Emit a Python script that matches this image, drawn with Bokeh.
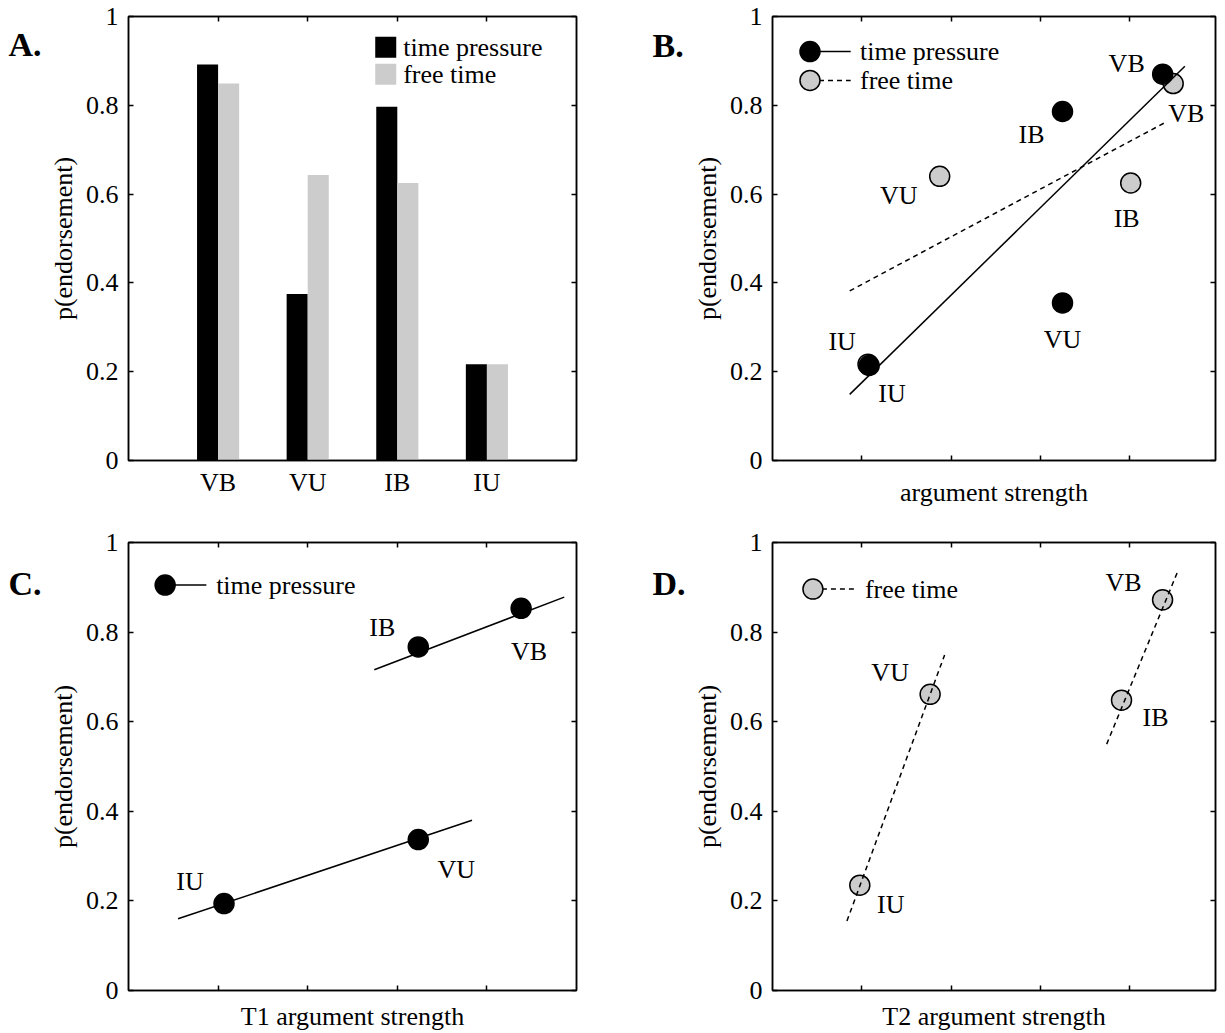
from bokeh.plotting import figure
from bokeh.models import Range1d, FixedTicker, LinearAxis, CustomJSTickFormatter
from bokeh.layouts import column, row
from bokeh.embed import file_html
from bokeh.resources import INLINE
from bokeh.core.properties import value

# ---------------- data ----------------
arguments = ["VB", "VU", "IB", "IU"]
y_ticks = [0, 0.2, 0.4, 0.6, 0.8, 1.0]
x_ticks = [1, 2, 3, 4]

# Panel A: observed endorsement rates
a_time_pressure = [0.892, 0.375, 0.797, 0.217]
a_free_time = [0.849, 0.643, 0.625, 0.217]

# Panel B: argument strength vs endorsement
b_tp_x = [4.371, 3.249, 3.249, 1.083]
b_tp_y = [0.870, 0.355, 0.786, 0.214]
b_ft_x = [4.489, 1.873, 4.013, 1.070]
b_ft_y = [0.849, 0.640, 0.625, 0.217]
b_tp_fit_x = [0.865, 4.620]
b_tp_fit_y = [0.149, 0.888]
b_ft_fit_x = [0.865, 4.406]
b_ft_fit_y = [0.382, 0.762]

# Panel C: T1 argument strength (time pressure)
c_x = [4.382, 3.234, 3.234, 1.066]
c_y = [0.853, 0.337, 0.767, 0.194]
c_fit_xs = [[2.743, 4.863], [0.553, 3.834]]
c_fit_ys = [[0.716, 0.878], [0.160, 0.380]]

# Panel D: T2 argument strength (free time)
d_x = [4.370, 1.766, 3.910, 0.978]
d_y = [0.872, 0.661, 0.648, 0.235]
d_fit_xs = [[3.744, 4.545], [0.834, 1.928]]
d_fit_ys = [[0.550, 0.938], [0.155, 0.749]]

panel_letters = ["A.", "B.", "C.", "D."]

# ---------------- layout / style constants ----------------
FONT = "Liberation Serif"
FS = "26px"
GRAY = "#cccccc"
MS = 20

# label offsets in screen pixels (dx, dy; dy positive = down)
b_tp_off = [(-36, -11), (0, 37), (-31, 23), (-27, -24)]
b_ft_off = [(13, 30), (-41, 19), (-4, 35), (24, 29)]
c_off = [(8, 43), (38, 30), (-36, -19), (-34, -22)]
d_off = [(-39, -17), (-40, -22), (34, 17), (31, 19)]


def make_fig(width, height, xmax, borders):
    l, r, t, b = borders
    p = figure(width=width, height=height, x_range=Range1d(0, xmax), y_range=Range1d(0, 1),
               output_backend="svg", toolbar_location=None, tools="",
               min_border_left=l, min_border_right=r, min_border_top=t, min_border_bottom=b)
    p.grid.visible = False
    p.outline_line_color = "black"
    p.outline_line_width = 1.5
    p.background_fill_color = "white"
    p.border_fill_color = "white"
    return p


def letter_fig(width, height, text, x, baseline_from_top):
    f = figure(width=width, height=height, x_range=Range1d(0, width), y_range=Range1d(0, height),
               output_backend="svg", toolbar_location=None, tools="",
               x_axis_type=None, y_axis_type=None, min_border=0,
               min_border_left=0, min_border_right=0, min_border_top=0, min_border_bottom=0)
    f.grid.visible = False
    f.outline_line_color = None
    f.text(x=[x], y=[height - baseline_from_top], text=[text], text_font=value(FONT),
           text_font_size=value("34px"), text_font_style="bold", text_color="black",
           text_align="left", text_baseline="alphabetic")
    return f


def style_axis(ax, ticks, show_labels=True, tick_in=5):
    ax.ticker = FixedTicker(ticks=ticks)
    ax.major_tick_in = tick_in
    ax.major_tick_out = 0
    ax.minor_tick_line_color = None
    ax.axis_line_color = "black"
    ax.axis_line_width = 1.5
    ax.major_tick_line_width = 1.5
    ax.major_label_text_font = FONT
    ax.major_label_text_color = "black"
    ax.axis_label_text_font = FONT
    ax.axis_label_text_font_size = FS
    ax.axis_label_text_font_style = "normal"
    ax.axis_label_text_color = "black"
    if show_labels:
        ax.major_label_text_font_size = FS
    else:
        ax.major_label_text_font_size = "0px"
        ax.major_label_standoff = 0
        ax.major_label_overrides = {t: "" for t in ticks}


def frame_axes(p, xticks, xlabel, xlabels=None, bottom_tick_in=5, xlabel_standoff=12):
    style_axis(p.yaxis[0], y_ticks)
    p.yaxis[0].formatter = CustomJSTickFormatter(code="return String(tick)")
    p.yaxis[0].axis_label = "p(endorsement)"
    p.yaxis[0].major_label_standoff = 10
    p.yaxis[0].axis_label_standoff = 5
    if xlabels is not None:
        style_axis(p.xaxis[0], xticks, True, tick_in=bottom_tick_in)
        p.xaxis[0].major_label_overrides = {t: s for t, s in zip(xticks, xlabels)}
        p.xaxis[0].major_label_standoff = 7
    else:
        style_axis(p.xaxis[0], xticks, False, tick_in=bottom_tick_in)
    p.xaxis[0].axis_label = xlabel
    p.xaxis[0].axis_label_standoff = xlabel_standoff
    top = LinearAxis()
    style_axis(top, xticks, False)
    p.add_layout(top, "above")
    right = LinearAxis()
    style_axis(right, y_ticks, False)
    p.add_layout(right, "right")


def point_labels(p, xs, ys, offs):
    p.text(x=xs, y=ys, text=arguments,
           x_offset=[o[0] for o in offs], y_offset=[o[1] for o in offs],
           text_font=value(FONT), text_font_size=value(FS), text_color="black",
           text_align="center", text_baseline="middle")


def legend_text(p, x, y, txt):
    p.text(x=[x], y=[y], text=[txt], text_font=value(FONT), text_font_size=value(FS),
           text_color="black", text_align="left", text_baseline="middle")


TOP_H, BOT_H = 515, 518
XMAX_R = 4.963

# ---------------- Panel A ----------------
pA = make_fig(578, TOP_H, 5, (86, 44, 12, 55))
cat_x = [i + 1 for i in range(len(arguments))]
bw = 0.235
pA.vbar(x=[c - bw / 2 for c in cat_x], top=a_time_pressure, width=bw,
        fill_color="black", line_color=None)
pA.vbar(x=[c + bw / 2 for c in cat_x], top=a_free_time, width=bw,
        fill_color=GRAY, line_color=None)
frame_axes(pA, x_ticks, "", xlabels=arguments, bottom_tick_in=0)
pA.rect(x=[2.871, 2.871], y=[0.931, 0.870], width=21, height=21,
        width_units="screen", height_units="screen",
        fill_color=["black", GRAY], line_color=None)
legend_text(pA, 3.066, 0.931, "time pressure")
legend_text(pA, 3.066, 0.870, "free time")
lA = letter_fig(42, TOP_H, panel_letters[0], 8, 33)

# ---------------- Panel B ----------------
pB = make_fig(539, TOP_H, XMAX_R, (86, 10, 16, 51))
frame_axes(pB, x_ticks, "argument strength", xlabel_standoff=17)
pB.scatter(x=b_ft_x, y=b_ft_y, size=MS, fill_color=GRAY, line_color="black", line_width=1.5)
pB.scatter(x=b_tp_x, y=b_tp_y, size=MS, fill_color="black", line_color="black", line_width=1.5)
pB.line(x=b_tp_fit_x, y=b_tp_fit_y, line_color="black", line_width=1.5)
pB.line(x=b_ft_fit_x, y=b_ft_fit_y, line_color="black", line_width=1.5, line_dash="5 4")
point_labels(pB, b_tp_x, b_tp_y, b_tp_off)
point_labels(pB, b_ft_x, b_ft_y, b_ft_off)
pB.line(x=[0.42, 0.876], y=[0.921, 0.921], line_color="black", line_width=1.5)
pB.line(x=[0.42, 0.876], y=[0.856, 0.856], line_color="black", line_width=1.5, line_dash="5 4")
pB.scatter(x=[0.42], y=[0.921], size=MS, fill_color="black", line_color="black", line_width=1.5)
pB.scatter(x=[0.42], y=[0.856], size=MS, fill_color=GRAY, line_color="black", line_width=1.5)
legend_text(pB, 0.98, 0.921, "time pressure")
legend_text(pB, 0.98, 0.856, "free time")
lB = letter_fig(66, TOP_H, panel_letters[1], 32, 33.3)

# ---------------- Panel C ----------------
pC = make_fig(578, BOT_H, 5, (86, 44, 27, 43))
frame_axes(pC, x_ticks, "T1 argument strength", xlabel_standoff=11)
pC.scatter(x=c_x, y=c_y, size=MS, fill_color="black", line_color="black", line_width=1.5)
pC.multi_line(xs=c_fit_xs, ys=c_fit_ys, line_color="black", line_width=1.5)
point_labels(pC, c_x, c_y, c_off)
pC.line(x=[0.409, 0.869], y=[0.905, 0.905], line_color="black", line_width=1.5)
pC.scatter(x=[0.409], y=[0.905], size=MS, fill_color="black", line_color="black", line_width=1.5)
legend_text(pC, 0.978, 0.905, "time pressure")
lC = letter_fig(42, BOT_H, panel_letters[2], 8, 47.7)

# ---------------- Panel D ----------------
pD = make_fig(539, BOT_H, XMAX_R, (86, 10, 27, 43))
frame_axes(pD, x_ticks, "T2 argument strength", xlabel_standoff=11)
pD.scatter(x=d_x, y=d_y, size=MS, fill_color=GRAY, line_color="black", line_width=1.5)
pD.multi_line(xs=d_fit_xs, ys=d_fit_ys, line_color="black", line_width=1.5, line_dash="5 4")
point_labels(pD, d_x, d_y, d_off)
pD.line(x=[0.453, 0.912], y=[0.896, 0.896], line_color="black", line_width=1.5, line_dash="5 4")
pD.scatter(x=[0.453], y=[0.896], size=MS, fill_color=GRAY, line_color="black", line_width=1.5)
legend_text(pD, 1.035, 0.896, "free time")
lD = letter_fig(66, BOT_H, panel_letters[3], 32, 47.7)

layout = column(row(lA, pA, lB, pB), row(lC, pC, lD, pD))
open("out.html", "w").write(file_html(layout, INLINE))
